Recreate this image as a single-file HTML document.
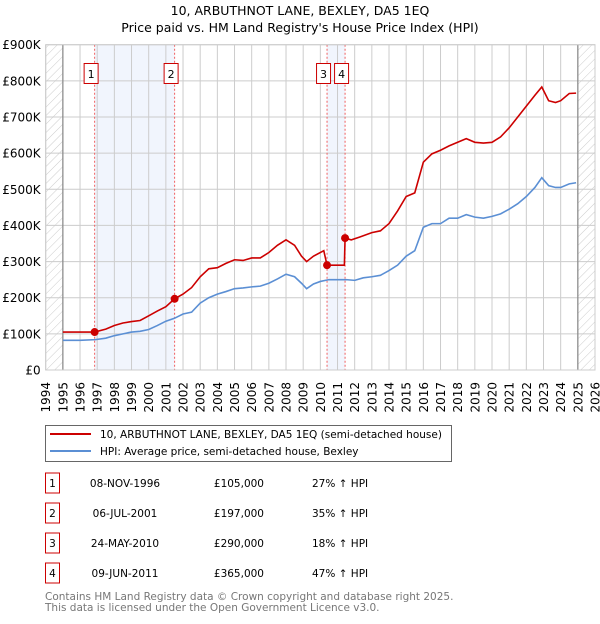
<!DOCTYPE html>
<html><head><meta charset="utf-8"><style>
body{margin:0;background:#fff;font-family:"DejaVu Sans","Liberation Sans",sans-serif;}
svg text{font-family:"DejaVu Sans","Liberation Sans",sans-serif;}
</style></head><body>
<svg id="c" width="600" height="620" xmlns="http://www.w3.org/2000/svg">
<defs><pattern id="hatch" width="6" height="6" patternUnits="userSpaceOnUse" patternTransform="rotate(45)"><line x1="0" y1="0" x2="0" y2="6" stroke="#ccc" stroke-width="1"/></pattern></defs>
<text x="300" y="15" text-anchor="middle" font-size="12.5">10, ARBUTHNOT LANE, BEXLEY, DA5 1EQ</text>
<text x="300" y="32" text-anchor="middle" font-size="12.5">Price paid vs. HM Land Registry's House Price Index (HPI)</text>
<g id="plot"></g>
<g>
<rect x="45.5" y="425.5" width="406" height="36" fill="#fff" stroke="#666"/>
<line x1="50" y1="434" x2="91" y2="434" stroke="#cc0000" stroke-width="2"/>
<text x="100" y="438" font-size="10.5">10, ARBUTHNOT LANE, BEXLEY, DA5 1EQ (semi-detached house)</text>
<line x1="50" y1="451" x2="91" y2="451" stroke="#5b8fd4" stroke-width="2"/>
<text x="100" y="455" font-size="10.5">HPI: Average price, semi-detached house, Bexley</text>
</g>
<g id="table" font-size="10.5"></g>
<text x="45" y="600" font-size="10.5" fill="#777">Contains HM Land Registry data © Crown copyright and database right 2025.</text>
<text x="45" y="611" font-size="10.5" fill="#777">This data is licensed under the Open Government Licence v3.0.</text>
</svg>
<script>
const yearTicks=[1994,1995,1996,1997,1998,1999,2000,2001,2002,2003,2004,2005,2006,2007,2008,2009,2010,2011,2012,2013,2014,2015,2016,2017,2018,2019,2020,2021,2022,2023,2024,2025,2026];
const priceTicks=[0,100,200,300,400,500,600,700,800,900];
const hpiT=[1995,1996,1996.9,1997.5,1998,1998.5,1999,1999.5,2000,2000.5,2001,2001.5,2002,2002.5,2003,2003.5,2004,2004.5,2005,2005.5,2006,2006.5,2007,2007.5,2008,2008.5,2008.9,2009.2,2009.6,2010,2010.5,2011,2011.5,2012,2012.5,2013,2013.5,2014,2014.5,2015,2015.5,2016,2016.5,2017,2017.5,2018,2018.5,2019,2019.5,2020,2020.5,2021,2021.5,2022,2022.5,2022.9,2023.3,2023.7,2024,2024.5,2024.9];
const hpiV=[82,82,84,88,95,100,105,107,112,123,135,143,155,160,185,200,210,217,225,227,230,232,240,252,265,258,240,225,238,245,250,250,250,248,255,258,262,275,290,315,330,395,405,405,420,420,430,423,420,425,432,445,460,480,505,532,510,505,505,515,518];
const paidT=[1995,1996.85,1997.5,1998,1998.5,1999,1999.5,2000,2000.5,2001,2001.51,2002,2002.5,2003,2003.5,2004,2004.5,2005,2005.5,2006,2006.5,2007,2007.5,2008,2008.5,2008.9,2009.2,2009.6,2010.2,2010.39,2011.4,2011.44,2011.8,2012.3,2013,2013.5,2014,2014.5,2015,2015.5,2016,2016.5,2017,2017.5,2018,2018.5,2019,2019.5,2020,2020.5,2021,2021.5,2022,2022.5,2022.9,2023.3,2023.7,2024,2024.5,2024.9];
const paidV=[105,105,113,123,130,134,137,150,163,175,197,210,228,258,280,283,295,305,303,310,310,325,345,360,345,315,300,315,330,290,290,365,360,368,380,385,405,440,480,490,575,598,608,620,630,640,630,628,630,645,670,700,730,760,783,745,740,745,765,766];
const saleT=[1996.85,2001.51,2010.39,2011.44];
const saleV=[105,197,290,365];
const saleLabels=["1","2","3","4"];
const saleDates=["08-NOV-1996","06-JUL-2001","24-MAY-2010","09-JUN-2011"];
const salePrices=["£105,000","£197,000","£290,000","£365,000"];
const saleHpi=["27% ↑ HPI","35% ↑ HPI","18% ↑ HPI","47% ↑ HPI"];
const NS="http://www.w3.org/2000/svg";
const X0=45.7,X1=595,Y0=370,Y1=44.7;
const xs=t=>X0+(t-1994)/(2026-1994)*(X1-X0);
const ys=v=>Y0-v/900*(Y0-Y1);
const plot=document.getElementById('plot');
function mk(tag,attrs,parent){const e=document.createElementNS(NS,tag);for(const k in attrs)e.setAttribute(k,attrs[k]);(parent||plot).appendChild(e);return e;}
for(const [a,b] of [[0,1],[2,3]]){
 const r=mk('rect',{x:xs(saleT[a]),y:Y1,width:xs(saleT[b])-xs(saleT[a]),height:Y0-Y1,fill:'#f1f5fd'});
 
 
}
let h=mk('rect',{x:X0,y:Y1,width:xs(1995)-X0,height:Y0-Y1,fill:'url(#hatch)'});


h=mk('rect',{x:xs(2025),y:Y1,width:X1-xs(2025),height:Y0-Y1,fill:'url(#hatch)'});


for(const y of yearTicks){
 const l=mk('line',{x1:xs(y),x2:xs(y),y1:Y1,y2:Y0,stroke:'#ccc','stroke-width':1});
 
 
 const t=mk('text',{x:0,y:0,'font-size':12,'text-anchor':'end',transform:`translate(${xs(y)+4.5},382) rotate(-90)`});
 t.textContent=y;
 
 
}
for(const p of priceTicks){
 const l=mk('line',{x1:X0,x2:X1,y1:ys(p),y2:ys(p),stroke:'#ccc','stroke-width':1});
 
 
 const t=mk('text',{x:X0-5,y:ys(p)+4.5,'font-size':12,'text-anchor':'end'});
 t.textContent=p===0?'£0':'£'+p+'K';
 
 
}
for(const y of [1995,2025]){
 const l=mk('line',{x1:xs(y),x2:xs(y),y1:Y1,y2:Y0,stroke:'#888','stroke-width':1.2});
 
 
}
saleT.forEach((t,i)=>{
 const l=mk('line',{x1:xs(t),x2:xs(t),y1:Y1,y2:Y0,stroke:'#f06060','stroke-width':1,'stroke-dasharray':'2,2'});
 
 
 const g=mk('g',{});
 
 
 const cx=xs(t)-3.5;
 mk('rect',{x:cx-7,y:63.5,width:14,height:20,fill:'#fff',stroke:'#cc0000'},g);
 const tx=mk('text',{x:cx,y:78,'font-size':11,'text-anchor':'middle'},g);
 tx.textContent=saleLabels[i];
});
let p=mk('polyline',{points:hpiT.map((t,i)=>xs(t)+','+ys(hpiV[i])).join(' '),fill:'none',stroke:'#5b8fd4','stroke-width':1.6});


p=mk('polyline',{points:paidT.map((t,i)=>xs(t)+','+ys(paidV[i])).join(' '),fill:'none',stroke:'#cc0000','stroke-width':1.6});


saleT.forEach((t,i)=>{
 const c=mk('circle',{cx:xs(t),cy:ys(saleV[i]),r:4,fill:'#cc0000'});
 
 
});
mk('rect',{x:X0,y:Y1,width:X1-X0,height:Y0-Y1,fill:'none',stroke:'#ccc'});
const tb=document.getElementById('table');
saleLabels.forEach((s,i)=>{
 const y=483+i*30;
 const g=mk('g',{},tb);
 
 
 mk('rect',{x:45.5,y:y-10,width:14,height:20,fill:'#fff',stroke:'#cc0000'},g);
 let t=mk('text',{x:52.5,y:y+4,'text-anchor':'middle'},g);t.textContent=s;
 t=mk('text',{x:125,y:y+4,'text-anchor':'middle'},g);t.textContent=saleDates[i];
 t=mk('text',{x:264,y:y+4,'text-anchor':'end'},g);t.textContent=salePrices[i];
 t=mk('text',{x:312,y:y+4},g);t.textContent=saleHpi[i];
});
</script>
</body></html>
